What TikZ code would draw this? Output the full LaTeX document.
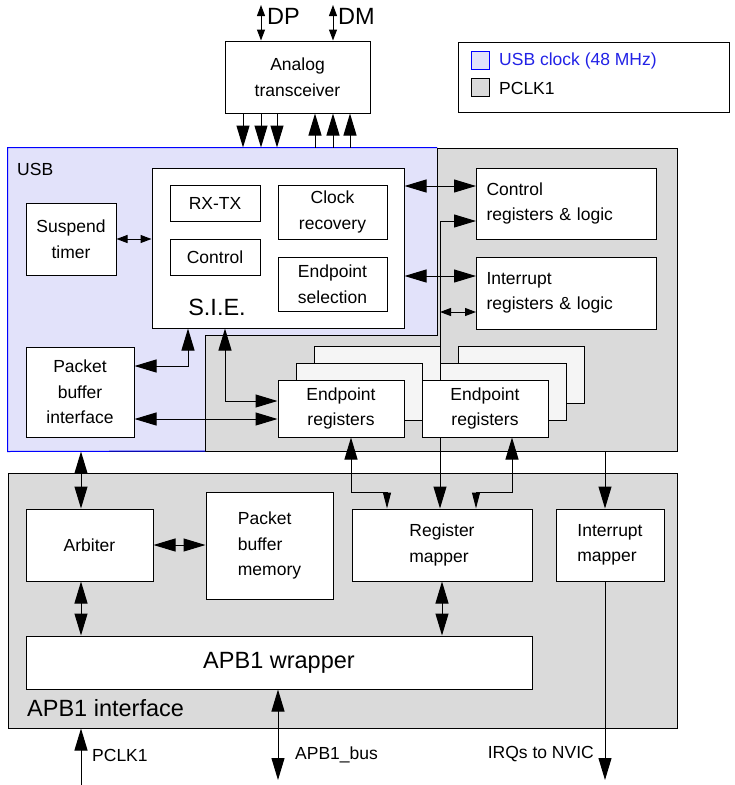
\documentclass[tikz,border=0pt]{standalone}
\usepackage{fontspec}
\setmainfont{Liberation Sans}
\usetikzlibrary{arrows.meta,calc}
\definecolor{usbfill}{HTML}{E2E2FA}
\definecolor{usbedge}{HTML}{0000FF}
\definecolor{pclkfill}{HTML}{DADADA}
\definecolor{cardfill}{HTML}{F5F5F5}
\definecolor{keyblue}{HTML}{2222E6}
\tikzset{
  region/.style={
    rectangle,
    draw=black,
    line width=1pt,
    inner sep=0pt
  },
  block/.style={
    rectangle,
    draw=black,
    fill=white,
    line width=1pt,
    align=center,
    inner sep=0pt,
    font=\fontsize{17.5}{25.5}\selectfont
  },
  cardback/.style={
    rectangle,
    draw=black,
    fill=cardfill,
    line width=1pt,
    minimum width=126pt,
    minimum height=57pt,
    inner sep=0pt
  },
  swatch/.style={
    rectangle,
    draw=black,
    line width=0.8pt,
    minimum size=18pt,
    inner sep=0pt
  },
  labeltext/.style={inner sep=0pt, font=\fontsize{17.5}{25}\selectfont},
  bigtext/.style={inner sep=0pt, font=\fontsize{23.5}{28}\selectfont},
  wire/.style={draw=black, line width=1pt},
  onebig/.style={wire, -{Triangle[length=22pt,width=13pt]}},
  twobig/.style={wire, {Triangle[length=22pt,width=13pt]}-{Triangle[length=22pt,width=13pt]}},
  twosmall/.style={wire, {Triangle[length=11pt,width=8pt]}-{Triangle[length=11pt,width=8pt]}},
  twomix/.style={wire, {Triangle[length=22pt,width=13pt]}-{Triangle[length=16pt,width=8pt]}}
}

\begin{document}
\begin{tikzpicture}[x=1pt,y=-1pt]
  \useasboundingbox (0,0) rectangle (735,785);

  % Clock domains.
  \node[region, fill=pclkfill, minimum width=669pt, minimum height=303pt] (core) at (342.5,299.5) {};
  \node[region, fill=pclkfill, minimum width=669pt, minimum height=255pt] (apb) at (342.5,600.5) {};
  \coordinate (usbcut) at (437,335);
  \coordinate (usbfoot) at (205,451);
  \fill[usbfill] (core.north west) -| (usbcut) -| (usbfoot) -- (core.south west) -- cycle;
  \draw[draw=usbedge, line width=1pt]
    (usbcut |- core.north) -- (core.north west) -- (core.south west) -- (usbfoot);
  \draw[wire] (usbcut |- core.north) -- (usbcut) -| (usbfoot);
  \node[labeltext, anchor=west] (usblab) at (17,169) {USB};
  \node[bigtext, anchor=west] (apblab) at (27,708) {APB1 interface};

  % Legend.
  \node[region, minimum width=271pt, minimum height=70pt] (legend) at (593.5,77) {};
  \node[swatch, fill=usbfill, draw=usbedge] (usbkey) at (480,60) {};
  \node[swatch, fill=pclkfill] (pclkkey) at (480,87) {};
  \node[labeltext, anchor=west, text=keyblue] (usbkeytext) at (499,61) {USB clock (48 MHz)};
  \node[labeltext, anchor=west] (pclkkeytext) at (499,88) {PCLK1};

  % Transceiver and SIE.
  \node[block, minimum width=145pt, minimum height=72pt] (xcvr) at (297.5,77) {Analog\\transceiver};
  \node[block, minimum width=252pt, minimum height=160pt] (sie) at (278,248) {};
  \node[block, minimum width=90pt, minimum height=36pt] (rxtx) at (215,203) {RX-TX};
  \node[block, minimum width=90pt, minimum height=36pt] (ctrl) at (215,257) {Control};
  \node[block, minimum width=109pt, minimum height=54pt] (clkrec) at (332.5,212) {Clock\\recovery};
  \node[block, minimum width=109pt, minimum height=54pt] (epsel) at (332.5,284) {Endpoint\\selection};
  \node[bigtext] (sielab) at (217,307) {S.I.E.};
  \node[block, minimum width=90pt, minimum height=72pt] (susp) at (71,239) {Suspend\\timer};
  \node[block, minimum width=108pt, minimum height=90pt] (pbi) at (80,392) {Packet\\buffer\\interface};
  \node[block, align=left, text width=160pt, inner xsep=10pt, minimum height=71pt]
    (ctrlreg) at (566.5,203.5) {Control\\registers \& logic};
  \node[block, align=left, text width=160pt, inner xsep=10pt, minimum height=72pt]
    (intreg) at (566.5,293) {Interrupt\\registers \& logic};

  % APB1 side.
  \node[block, minimum width=127pt, minimum height=72pt] (arb) at (89.5,545) {Arbiter};
  \node[block, align=left, minimum width=127pt, minimum height=107pt] (pbm) at (269.5,545.5) {Packet\\buffer\\memory};
  \node[block, align=left, minimum width=180pt, minimum height=72pt] (regmap) at (442,545) {Register\\mapper};
  \node[block, align=left, minimum width=108pt, minimum height=72pt] (intmap) at (610,545) {Interrupt\\mapper};
  \node[block, minimum width=506pt, minimum height=53pt, font=\fontsize{23.5}{28}\selectfont]
    (apbw) at (279,662.5) {APB1 wrapper};

  % Register bus, behind the endpoint cards.
  \coordinate (busx) at (440,221);
  \draw[twobig] (ctrlreg.west |- busx) -| (regmap.north -| busx);

  \foreach \cx/\nm in {341/ep1, 485/ep2} {
    \node[cardback] (\nm-c) at (\cx+36,374.5) {};
    \node[cardback] (\nm-b) at (\cx+18,391.5) {};
    \node[block, minimum width=126pt, minimum height=57pt] (\nm) at (\cx,408.5) {Endpoint\\registers};
  }

  % Pins.
  \coordinate (dpend) at (261,5);
  \coordinate (dmend) at (333,5);
  \draw[twosmall] (dpend) -- (dpend |- xcvr.north);
  \draw[twosmall] (dmend) -- (dmend |- xcvr.north);
  \node[bigtext, anchor=west] (dplab) at (267,16) {DP};
  \node[bigtext, anchor=west] (dmlab) at (338,16) {DM};

  % Transceiver to SIE.
  \foreach \x [count=\i] in {243,261,277} {
    \coordinate (dn\i) at (\x,0);
    \draw[onebig] (xcvr.south -| dn\i) -- (core.north -| dn\i);
  }
  \foreach \x [count=\i] in {315,333,350} {
    \coordinate (up\i) at (\x,0);
    \draw[onebig] (core.north -| up\i) -- (xcvr.south -| up\i);
  }

  % Inside the USB block.
  \coordinate (cr1) at (476,186);
  \coordinate (ir1) at (476,276);
  \coordinate (ir2) at (476,312);
  \coordinate (p1) at (188,366);
  \coordinate (p2) at (225,401);
  \coordinate (p3) at (200,419);
  \draw[twosmall] (susp.east) -- (susp.east -| sie.west);
  \draw[twobig] (sie.east |- cr1) -- (cr1);
  \draw[twobig] (sie.east |- ir1) -- (ir1);
  \draw[twosmall] (busx |- ir2) -- (ir2);
  \draw[twobig] (pbi.east |- p1) -| (sie.south -| p1);
  \draw[twobig] (sie.south -| p2) |- (ep1.west |- p2);
  \draw[twobig] (pbi.east |- p3) -- (ep1.west |- p3);

  % Endpoint registers to the mapper.
  \coordinate (e1) at (351,492);
  \coordinate (e2) at (387,492);
  \coordinate (e3) at (512,492);
  \coordinate (e4) at (476,492);
  \draw[twomix] (ep1.south -| e1) -- (e1) -- (e2) -- (regmap.north -| e2);
  \draw[twomix] (ep2.south -| e3) -- (e3) -- (e4) -- (regmap.north -| e4);

  % APB1 interface links.
  \coordinate (a1) at (81,0);
  \coordinate (clkin) at (81,785);
  \coordinate (busend) at (278,780);
  \coordinate (irqout) at (605,780);
  \draw[twobig] (core.south -| a1) -- (arb.north -| a1);
  \draw[twobig] (arb.east) -- (arb.east -| pbm.west);
  \draw[twobig] (arb.south -| a1) -- (apbw.north -| a1);
  \draw[twobig] (regmap.south) -- (regmap.south |- apbw.north);
  \draw[onebig] (core.south -| irqout) -- (intmap.north -| irqout);
  \draw[onebig] (clkin) -- (clkin |- apb.south);
  \draw[twobig] (busend |- apbw.south) -- (busend);
  \draw[onebig] (intmap.south -| irqout) -- (irqout);
  \node[labeltext, anchor=west] (clklab) at (92,755) {PCLK1};
  \node[labeltext, anchor=west] (buslab) at (295,755) {APB1\_bus};
  \node[labeltext, anchor=east] (irqlab) at (594,754) {IRQs to NVIC};
\end{tikzpicture}
\end{document}
